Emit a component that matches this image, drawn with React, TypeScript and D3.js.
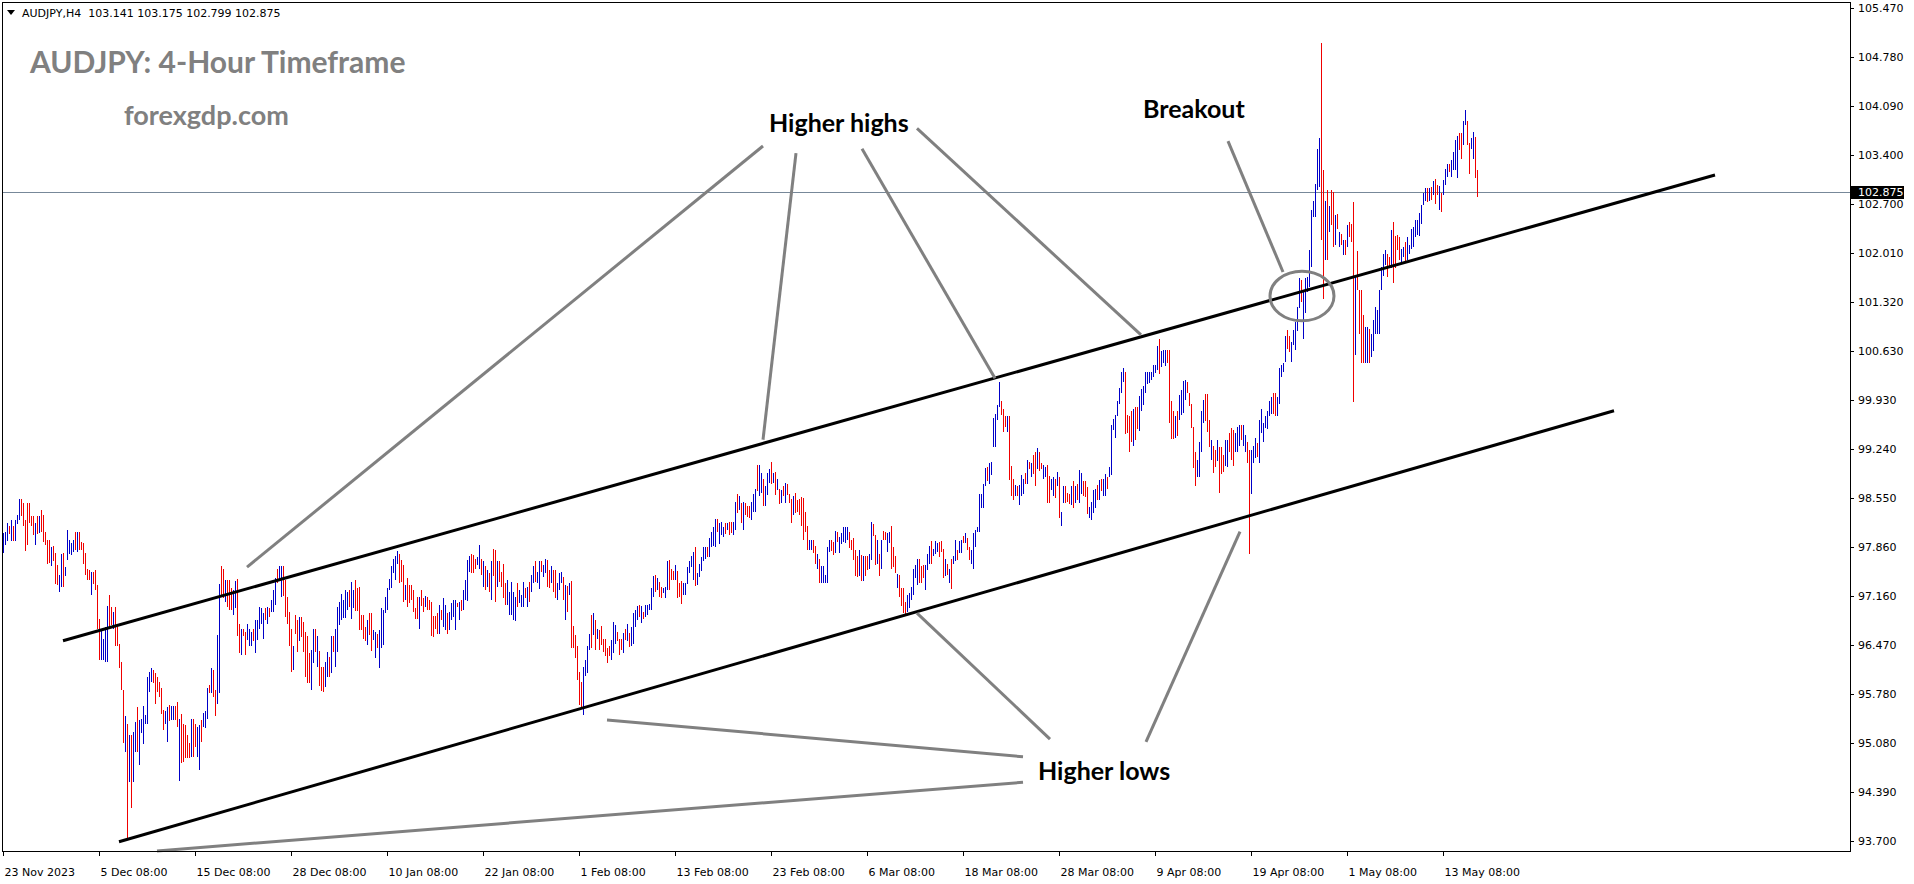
import React from "react";
import { scaleLinear } from "d3";

// one bar per H4 candle: [high, low, 1 = up bar (blue) / 0 = down bar (red)]
type Bar = [number, number, number];

const barsDec: Bar[] = [
  [98.05,97.77,1],[98.06,97.88,1],[98.19,97.94,1],[98.15,98.04,0],[98.23,97.94,1],[98.15,97.94,0],[98.24,97.94,1],[98.31,98.18,1],[98.53,98.23,1],[98.53,98.29,0],
  [98.48,98.15,0],[98.24,97.80,0],[98.48,97.88,0],[98.48,98.20,0],[98.29,98.15,0],[98.29,98.02,0],[98.19,97.88,1],[98.29,98.04,0],[98.29,98.05,1],[98.38,98.06,0],
  [98.31,97.93,0],[98.07,97.88,0],[97.95,97.62,0],[97.95,97.63,0],[97.86,97.58,1],[97.87,97.65,0],[97.77,97.33,0],[97.60,97.32,0],[97.46,97.22,1],[97.76,97.29,1],
  [97.77,97.29,0],[97.57,97.44,1],[98.09,97.67,1],[97.96,97.76,1],[97.91,97.74,1],[97.95,97.79,1],[98.06,97.81,0],[98.07,97.79,1],[98.06,97.81,0],[97.93,97.81,0],
  [97.91,97.62,0],[97.77,97.46,0],[97.55,97.39,0],[97.53,97.39,0],[97.50,97.18,1],[97.50,97.33,0],[97.53,97.25,0],[97.32,96.70,0],[96.83,96.26,0],[96.70,96.26,1],
  [96.56,96.26,1],[96.73,96.23,1],[97.02,96.23,1],[97.17,96.69,0],[97.01,96.75,0],[96.94,96.70,1],[97.01,96.45,0],[96.72,96.45,0],[96.49,96.14,0],[96.23,95.83,0],
  [95.84,95.08,0],[95.47,94.96,1],[95.36,93.74,0],[95.20,94.54,1],[95.20,94.16,0],[95.24,94.54,1],[95.38,94.96,1],[95.60,94.96,0],[95.41,94.77,1],[95.42,95.22,1],
  [95.61,95.07,1],[95.48,95.36,1],[96.02,95.36,1],[96.09,95.81,1],[96.14,95.95,1],[96.12,95.93,0],[96.07,95.64,0],[96.02,95.81,0],[95.95,95.74,0],[95.86,95.50,0],
  [95.55,95.27,0],[95.53,95.36,1],[95.60,95.10,1],[95.62,95.39,0],[95.61,95.41,1],[95.61,95.41,1],[95.61,95.41,0],[95.67,95.31,0],[95.43,94.55,1],[95.50,94.80,0],
  [95.36,94.82,0],[95.34,94.87,0],[95.20,94.87,0],[95.08,94.87,0],[95.43,94.89,1],[95.43,94.89,0],[95.36,95.03,0],[95.31,94.89,1],[95.34,94.71,1],[95.41,95.10,0],
  [95.51,95.31,1],[95.53,95.29,1],[95.86,95.43,1],[95.90,95.79,0],[96.14,95.79,1],[96.11,95.74,0],[95.83,95.47,0],[96.61,95.64,1],[97.33,95.79,1],[97.58,97.17,0],
  [97.55,97.13,0],[97.39,97.08,1],[97.39,97.01,0],[97.39,96.96,0],[97.27,96.96,0],[97.25,96.89,1],[97.38,96.99,1],[97.40,96.60,0],[96.77,96.35,0],[96.70,96.33,1],
  [96.70,96.59,0],[96.66,96.33,0],[96.77,96.54,1],[96.70,96.45,1],[96.66,96.45,1],[96.69,96.52,0],[96.82,96.35,1],[96.82,96.54,1],[97.01,96.70,1],[96.99,96.77,1],
  [96.92,96.56,1],[96.99,96.82,0],[97.01,96.77,1],[96.99,96.86,0],[97.10,96.94,1],[97.25,96.94,1],[97.41,97.03,1],[97.55,97.34,0],[97.58,97.39,1],[97.58,97.15,1],
  [97.58,97.16,0],[97.39,96.87,0],[97.15,96.77,0],[96.94,96.45,0],[96.70,96.09,0],[96.45,96.12,1],[96.89,96.63,0],[96.82,96.37,0],[96.87,96.52,1],
];

const barsJan: Bar[] = [
  [96.86,96.58,0],[96.80,96.37,0],[96.66,96.02,0],[96.59,95.93,0],[96.35,95.93,0],[96.40,95.83,1],[96.70,96.21,1],[96.70,96.37,0],[96.60,96.16,1],[96.38,95.89,0],
  [96.16,95.82,0],[96.16,95.81,0],[96.23,95.88,1],[96.37,96.02,1],[96.30,96.02,0],[96.59,96.07,1],[96.59,96.37,0],[96.70,96.16,1],[97.00,96.37,1],[97.08,96.75,1],
  [97.19,96.82,1],[97.10,96.85,1],[97.24,96.85,1],[97.22,96.96,1],[97.25,97.00,0],[97.36,96.83,1],[97.25,96.99,1],[97.39,96.95,0],[97.28,96.95,0],[97.29,96.68,0],
  [96.89,96.68,0],[96.89,96.56,0],[96.73,96.52,0],[96.82,96.47,1],[96.92,96.61,0],[96.92,96.38,0],[96.68,96.54,1],[96.66,96.28,1],[96.63,96.42,0],[96.68,96.14,1],
  [96.99,96.43,1],[96.97,96.47,1],[97.15,96.92,1],[97.27,96.97,1],[97.40,97.24,1],[97.58,97.27,1],[97.68,97.48,1],[97.72,97.39,1],[97.80,97.62,1],[97.76,97.34,0],
  [97.67,97.36,0],[97.60,97.08,0],[97.32,97.10,1],[97.41,97.01,0],[97.32,97.06,0],[97.32,97.10,0],[97.25,96.94,0],[96.99,96.83,0],[97.15,96.84,0],[97.15,96.70,1],
  [97.24,97.02,0],[97.14,96.94,0],[97.16,97.00,1],[97.15,96.96,0],[97.10,96.97,0],[97.07,96.59,0],[96.88,96.58,0],[96.88,96.70,0],[96.92,96.63,0],[97.03,96.63,1],
  [96.97,96.82,0],[97.13,96.73,1],[97.03,96.68,1],[96.92,96.63,0],[96.93,96.68,1],[97.06,96.82,1],[97.10,96.87,1],[97.11,96.68,1],[97.06,97.00,0],[97.07,96.82,1],
  [97.11,96.95,0],[97.25,96.97,1],[97.39,97.10,1],[97.67,97.09,1],[97.72,97.50,1],[97.75,97.48,0],[97.74,97.48,0],[97.69,97.54,0],[97.71,97.60,1],[97.88,97.54,1],
  [97.69,97.46,0],[97.65,97.29,1],[97.58,97.25,0],[97.53,97.29,1],[97.48,97.22,0],[97.65,97.11,1],[97.82,97.44,0],[97.81,97.08,0],[97.65,97.29,1],[97.65,97.36,0],
  [97.50,97.29,0],[97.62,97.14,0],[97.35,97.03,0],[97.39,97.03,1],[97.22,96.89,1],[97.36,96.89,1],[97.22,96.82,1],[97.15,96.81,1],[97.35,97.00,0],[97.25,97.06,1],
  [97.18,97.00,1],[97.36,97.01,1],[97.27,97.14,0],[97.29,97.00,1],[97.36,97.08,0],[97.46,97.22,1],[97.58,97.34,1],[97.66,97.36,0],[97.50,97.34,1],[97.65,97.26,1],
  [97.66,97.50,0],[97.60,97.43,1],[97.69,97.48,1],[97.67,97.29,0],[97.53,97.27,0],[97.58,97.34,1],[97.53,97.22,0],[97.53,97.14,0],[97.34,97.10,1],[97.48,97.25,1],
  [97.50,97.34,1],[97.43,97.10,0],[97.32,96.82,1],[97.30,96.94,0],[97.35,97.18,1],[97.38,96.42,0],[96.74,96.42,0],[96.61,96.28,0],[96.45,95.98,0],[96.09,95.62,0],
  [95.94,95.57,0],[96.16,95.48,1],[96.26,96.03,1],[96.45,96.07,1],[96.63,96.40,1],[96.89,96.42,0],[96.92,96.61,1],[96.82,96.40,0],[96.70,96.56,1],[96.68,96.40,0],
];

const barsFeb: Bar[] = [
  [96.74,96.47,0],[96.56,96.37,0],[96.56,96.31,0],[96.42,96.21,0],[96.45,96.31,0],[96.54,96.26,1],[96.79,96.35,1],[96.75,96.48,1],[96.66,96.52,0],[96.56,96.33,0],
  [96.56,96.40,0],[96.64,96.35,1],[96.70,96.54,0],[96.77,96.52,1],[96.64,96.44,0],[96.73,96.45,1],[96.92,96.48,1],[96.96,96.73,1],[97.02,96.82,1],[97.03,96.87,0],
  [97.02,96.78,1],[96.93,96.84,0],[97.03,96.87,1],[97.03,96.89,1],[97.05,96.97,1],[97.27,96.97,1],[97.44,97.15,1],[97.46,97.22,0],[97.41,97.25,1],[97.36,97.15,0],
  [97.29,97.13,0],[97.27,97.20,1],[97.29,97.13,1],[97.66,97.25,1],[97.67,97.25,0],[97.55,97.39,0],[97.51,97.39,0],[97.60,97.39,1],[97.52,97.14,0],[97.35,97.15,0],
  [97.37,97.05,0],[97.34,97.18,1],[97.34,97.18,1],[97.57,97.33,1],[97.66,97.49,1],[97.72,97.57,1],[97.79,97.39,1],[97.85,97.30,0],[97.49,97.32,1],[97.62,97.43,1],
  [97.71,97.51,1],[97.85,97.65,1],[97.86,97.69,1],[97.86,97.71,0],[97.98,97.71,1],[98.06,97.85,1],[98.13,97.87,1],[98.25,97.85,1],[98.25,98.07,0],[98.20,97.90,1],
  [98.21,98.02,1],[98.13,98.00,1],[98.19,98.04,0],[98.19,98.09,1],[98.21,98.02,0],[98.21,98.05,0],[98.21,98.02,1],[98.49,98.09,1],[98.61,98.33,0],[98.57,98.37,1],
  [98.48,98.19,0],[98.49,98.09,1],[98.47,98.31,0],[98.43,98.28,0],[98.43,98.26,0],[98.49,98.24,1],[98.60,98.35,1],[98.67,98.35,1],[99.01,98.64,0],[99.01,98.57,1],
  [98.90,98.62,1],[98.81,98.43,0],[98.71,98.43,1],[98.90,98.59,1],[98.95,98.76,1],[99.06,98.75,0],[98.90,98.76,1],[98.92,98.59,0],[98.81,98.66,1],[98.68,98.46,0],
  [98.66,98.48,1],[98.71,98.57,0],[98.76,98.47,1],[98.75,98.59,0],[98.61,98.47,0],[98.53,98.20,0],[98.57,98.31,1],[98.62,98.33,0],[98.52,98.35,0],[98.53,98.31,0],
  [98.56,98.15,0],[98.54,97.95,0],[98.35,98.07,0],[98.15,97.81,0],[97.95,97.81,1],[97.95,97.81,1],[97.95,97.77,0],[97.87,97.61,0],[97.76,97.55,1],[97.69,97.34,0],
  [97.58,97.34,1],[97.58,97.35,1],[97.46,97.35,1],[97.85,97.35,1],[97.95,97.79,1],[97.96,97.80,0],[97.93,97.74,0],[98.08,97.77,1],[98.07,97.93,0],[98.00,97.77,1],
  [98.05,97.90,1],[98.13,97.93,1],[98.13,97.91,1],[98.13,97.95,1],[98.07,97.84,0],[97.96,97.81,0],[97.98,97.67,0],[97.81,97.44,0],[97.72,97.43,0],[97.81,97.44,1],
  [97.74,97.38,0],[97.73,97.37,1],[97.73,97.44,0],[97.72,97.53,0],[97.76,97.54,1],[98.21,97.67,1],[98.18,98.01,0],[98.02,97.60,0],[97.95,97.61,1],[97.76,97.44,0],
  [97.95,97.55,1],[98.08,97.95,0],[98.06,97.95,0],[98.05,97.79,1],[98.06,97.91,1],[98.15,97.55,0],[97.85,97.57,0],[97.73,97.49,0],[97.47,97.27,1],[97.46,97.15,0],
];

const barsMar: Bar[] = [
  [97.27,97.02,0],[97.27,96.92,0],[97.07,96.89,0],[97.18,96.94,1],[97.20,96.99,1],[97.29,97.10,1],[97.55,97.18,1],[97.60,97.41,1],[97.69,97.32,1],[97.69,97.35,0],
  [97.59,97.34,0],[97.60,97.41,0],[97.60,97.25,1],[97.75,97.53,1],[97.87,97.62,1],[97.94,97.62,0],[97.83,97.72,1],[97.94,97.75,1],[97.91,97.79,1],[97.93,97.71,0],
  [97.94,97.79,0],[97.82,97.41,0],[97.68,97.44,1],[97.62,97.46,0],[97.54,97.35,1],[97.68,97.26,0],[97.72,97.62,1],[97.96,97.65,1],[97.81,97.67,0],[97.94,97.77,1],
  [97.96,97.77,1],[98.01,97.91,0],[98.05,97.91,1],[97.98,97.81,0],[97.86,97.67,0],[97.81,97.62,1],[98.05,97.55,1],[98.10,97.86,1],[98.13,98.07,1],[98.61,98.07,1],
  [98.61,98.41,1],[98.74,98.41,1],[98.97,98.71,1],[98.99,98.78,0],[99.04,98.75,1],[99.06,98.87,1],[99.67,99.27,1],[99.74,99.27,1],[99.86,99.65,1],[100.18,99.83,1],
  [99.91,99.72,0],[99.80,99.48,0],[99.70,99.55,0],[99.70,99.48,1],[99.70,98.80,0],[99.00,98.57,0],[98.82,98.52,0],[98.73,98.57,1],[98.72,98.57,0],[98.73,98.45,1],
  [98.87,98.57,1],[98.81,98.61,1],[98.90,98.75,0],[99.08,98.75,1],[99.05,98.95,0],[99.04,98.85,1],[99.15,98.89,0],[99.20,98.72,0],[99.26,98.95,1],[99.19,98.93,0],
  [99.04,98.95,0],[99.01,98.82,1],[98.99,98.85,1],[99.01,98.47,0],[98.86,98.48,0],[98.82,98.66,1],[98.85,98.57,1],[98.81,98.54,0],[98.92,98.72,1],[98.85,98.26,0],
  [98.35,98.15,1],[98.72,98.47,1],[98.72,98.47,0],[98.62,98.49,0],[98.61,98.46,0],[98.71,98.45,1],[98.78,98.40,0],[98.71,98.47,1],[98.75,98.52,0],[98.94,98.47,1],
  [98.90,98.61,1],[98.78,98.57,0],[98.78,98.56,0],[98.70,98.32,0],[98.42,98.26,1],[98.49,98.24,1],[98.66,98.33,1],[98.68,98.40,1],[98.73,98.52,0],[98.80,98.52,1],
  [98.81,98.65,0],[98.81,98.57,1],[98.89,98.57,1],[98.85,98.68,0],[98.98,98.85,1],[99.58,98.87,1],[99.66,99.51,1],[99.72,99.40,1],[99.91,99.70,1],[100.10,99.88,1],
  [100.33,100.03,1],[100.39,100.19,1],[100.33,99.45,0],[99.72,99.46,0],[99.70,99.19,0],[99.77,99.34,0],[99.80,99.28,1],[99.83,99.37,0],[99.83,99.52,0],[99.99,99.50,1],
  [100.08,99.78,1],[100.13,99.86,1],[100.32,100.03,1],[100.32,100.16,1],[100.32,100.17,1],[100.33,100.21,1],[100.43,100.26,1],[100.43,100.31,1],[100.69,100.35,1],[100.80,100.30,0],
  [100.63,100.40,1],[100.64,100.45,1],[100.64,100.41,1],[100.64,100.46,0],[100.64,99.60,0],[99.91,99.38,0],[99.77,99.38,0],[99.70,99.39,1],[99.77,99.42,0],[100.00,99.65,1],
  [100.07,99.72,1],[100.20,99.75,1],[100.22,99.93,1],[100.18,100.03,0],[100.03,99.84,0],[99.87,99.53,0],[99.55,98.97,0],[99.20,98.72,0],[99.08,98.85,1],[99.34,98.85,1],
];

const barsApr: Bar[] = [
  [99.77,99.20,1],[99.93,99.61,1],[100.02,99.64,0],[100.02,99.48,0],[99.65,99.27,0],[99.37,99.08,1],[99.28,98.90,0],[99.22,98.99,0],[99.37,99.07,1],[99.27,98.62,0],
  [99.27,98.88,0],[99.15,98.92,0],[99.37,99.00,1],[99.37,98.99,1],[99.47,99.20,0],[99.54,99.09,0],[99.51,99.00,0],[99.46,99.20,1],[99.55,99.20,1],[99.58,99.28,1],
  [99.58,99.37,0],[99.58,99.28,1],[99.44,99.19,1],[99.34,99.04,0],[99.23,97.76,0],[99.23,98.61,1],[99.28,99.04,1],[99.39,99.11,1],[99.33,99.13,0],[99.65,99.04,1],
  [99.81,99.47,1],[99.60,99.34,1],[99.70,99.53,1],[99.77,99.52,1],[99.91,99.70,1],[99.98,99.74,1],[100.03,99.74,0],[100.03,99.70,0],[99.98,99.70,1],[100.39,99.88,1],
  [100.43,100.26,1],[100.46,100.33,1],[100.83,100.47,1],[100.92,100.65,0],[100.83,100.61,0],[100.75,100.47,1],[100.92,100.71,1],[101.04,100.64,1],[101.25,100.90,1],[101.65,101.23,1],
  [101.63,101.32,0],[101.48,100.79,1],[101.65,101.16,1],[101.67,101.46,1],[102.05,101.53,1],[102.62,101.81,1],[102.75,102.52,1],[102.99,102.52,1],[103.48,102.90,1],[103.63,102.94,1],
  [104.98,102.19,0],[103.18,101.36,0],[102.74,101.91,1],[102.90,101.91,0],[102.67,102.31,1],[102.90,102.40,0],[102.87,102.10,0],[102.54,102.12,1],[102.56,102.35,0],[102.31,102.10,1],
  [102.28,102.12,0],[102.19,101.98,1],[102.19,101.98,0],[102.40,102.10,1],[102.45,102.24,0],[102.42,102.17,0],[102.73,99.90,0],[101.67,100.56,1],[102.04,101.48,0],[101.48,100.87,0],
  [101.48,100.45,0],[101.13,100.45,0],[100.96,100.45,1],[100.96,100.45,1],[100.94,100.45,0],[100.87,100.54,1],[101.06,100.63,1],[101.25,100.87,1],[101.20,100.87,1],[101.48,100.87,1],
  [101.81,101.48,1],[102.00,101.69,1],[102.05,101.84,1],[102.00,101.67,0],[101.95,101.81,0],[102.33,101.79,1],[102.45,101.58,0],[102.25,101.79,0],[102.26,102.05,0],[102.24,101.91,0],
  [102.07,101.88,1],[102.09,101.95,1],[102.17,101.88,0],[102.24,101.91,1],[102.12,102.00,1],[102.35,102.07,1],[102.38,102.10,1],[102.48,102.24,1],[102.48,102.26,1],[102.58,102.25,1],
  [102.68,102.42,1],[102.85,102.68,1],[102.93,102.75,1],[102.93,102.73,0],[102.92,102.75,1],[102.94,102.76,0],[103.03,102.83,1],[103.06,102.70,0],[102.97,102.83,0],[102.95,102.62,1],
  [102.86,102.59,0],[103.04,102.83,1],[103.20,102.97,1],[103.27,103.08,1],[103.27,103.15,0],[103.32,103.08,1],[103.44,103.18,1],[103.61,103.18,1],[103.66,103.07,1],[103.70,103.46,0],
  [103.70,103.34,0],[103.88,103.53,1],[104.03,103.81,1],[103.88,103.53,0],[103.56,103.12,0],[103.64,103.48,1],[103.72,103.34,1],[103.65,103.07,0],[103.175,102.799,0],
];

const bars: Bar[] = [...barsDec, ...barsJan, ...barsFeb, ...barsMar, ...barsApr];

const symbol = "AUDJPY,H4";
const lastOhlc = ["103.141", "103.175", "102.799", "102.875"];
const bidPrice = 102.875;

const priceTicks = [
  "105.470", "104.780", "104.090", "103.400", "102.700", "102.010", "101.320", "100.630", "99.930",
  "99.240", "98.550", "97.860", "97.160", "96.470", "95.780", "95.080", "94.390", "93.700",
];

const timeTickBars = [0, 48, 96, 144, 192, 240, 288, 336, 384, 432, 480, 528, 576, 624, 672, 720];
const timeTickLabels = [
  "23 Nov 2023", "5 Dec 08:00", "15 Dec 08:00", "28 Dec 08:00", "10 Jan 08:00", "22 Jan 08:00",
  "1 Feb 08:00", "13 Feb 08:00", "23 Feb 08:00", "6 Mar 08:00", "18 Mar 08:00", "28 Mar 08:00",
  "9 Apr 08:00", "19 Apr 08:00", "1 May 08:00", "13 May 08:00",
];

// drawn objects, anchored at [bar index, price]
const channelLines: [number, number][][] = [
  [[30, 96.53], [856, 103.11]],
  [[58, 93.69], [805.5, 99.78]],
];

const pointerLines: [number, number][][] = [
  [[380, 103.52], [122, 97.57]],
  [[396.5, 103.42], [380, 99.37]],
  [[429.5, 103.48], [496, 100.24]],
  [[457, 103.77], [569, 100.85]],
  [[612.5, 103.59], [640, 101.74]],
  [[302, 95.41], [510, 94.89]],
  [[77, 93.56], [510, 94.53]],
  [[457, 96.92], [523.5, 95.14]],
  [[618.5, 98.07], [571.5, 95.10]],
];

const breakoutZone = { left: 633.5, right: 665.5, top: 101.75, bottom: 101.05 };

const notes = [
  { text: "Higher highs", bar: 383, price: 103.72 },
  { text: "Breakout", bar: 570, price: 103.92 },
  { text: "Higher lows", bar: 517.5, price: 94.56 },
];

const W = 1914;
const H = 884;
const frame = { left: 2, top: 2, right: 1850, bottom: 851 };

export default function App() {
  const x = scaleLinear().domain([0, 737]).range([3, 1477]);
  const y = scaleLinear().domain([93.7, 105.47]).range([841, 8]);

  const axisFont = "'DejaVu Sans', Verdana, sans-serif";
  const noteFont = "Lato, 'Open Sans', sans-serif";
  const bidY = Math.round(y(bidPrice)) + 0.5;

  return (
    <svg
      width={W}
      height={H}
      style={{ position: "absolute", left: 0, top: 0, background: "#fff" }}
    >
      <rect x={0} y={0} width={W} height={H} fill="#fff" />

      {/* bid line */}
      <line x1={frame.left} x2={frame.right} y1={bidY} y2={bidY} stroke="#778899" strokeWidth={1} />

      {/* bars */}
      <g shapeRendering="crispEdges">
        {bars.map(([hi, lo, up], i) => {
          const top = Math.round(y(hi));
          const bot = Math.round(y(lo));
          return (
            <rect
              key={i}
              x={Math.round(x(i))}
              y={top}
              width={1}
              height={Math.max(1, bot - top)}
              fill={up ? "#0000c8" : "#f00000"}
            />
          );
        })}
      </g>

      {/* channel */}
      {channelLines.map(([a, b], i) => (
        <line
          key={`ch-${i}`}
          x1={x(a[0])}
          y1={y(a[1])}
          x2={x(b[0])}
          y2={y(b[1])}
          stroke="#000"
          strokeWidth={3}
        />
      ))}

      {/* pointers */}
      {pointerLines.map(([a, b], i) => (
        <line
          key={`pt-${i}`}
          x1={x(a[0])}
          y1={y(a[1])}
          x2={x(b[0])}
          y2={y(b[1])}
          stroke="#808080"
          strokeWidth={3}
        />
      ))}

      <ellipse
        cx={(x(breakoutZone.left) + x(breakoutZone.right)) / 2}
        cy={(y(breakoutZone.top) + y(breakoutZone.bottom)) / 2}
        rx={(x(breakoutZone.right) - x(breakoutZone.left)) / 2}
        ry={(y(breakoutZone.bottom) - y(breakoutZone.top)) / 2}
        fill="none"
        stroke="#808080"
        strokeWidth={3}
      />

      {notes.map((n) => (
        <text
          key={n.text}
          x={x(n.bar)}
          y={y(n.price)}
          fontFamily={noteFont}
          fontWeight={700}
          fontSize={25}
          fill="#000"
        >
          {n.text}
        </text>
      ))}

      {/* title labels */}
      <text x={30} y={73} fontFamily={noteFont} fontWeight={700} fontSize={30} fill="#808080">
        AUDJPY: 4-Hour Timeframe
      </text>
      <text x={124} y={125} fontFamily={noteFont} fontWeight={700} fontSize={27} fill="#808080">
        forexgdp.com
      </text>

      {/* header */}
      <polygon points="7,10 15,10 11,15" fill="#000" />
      <text x={22} y={13} dy="0.35em" fontFamily={axisFont} fontSize={11} fill="#000" style={{ whiteSpace: "pre" }}>
        {`${symbol}  ${lastOhlc.join(" ")}`}
      </text>

      {/* frame */}
      <rect
        x={frame.left + 0.5}
        y={frame.top + 0.5}
        width={frame.right - frame.left}
        height={frame.bottom - frame.top}
        fill="none"
        stroke="#000"
        strokeWidth={1}
      />

      {/* price axis */}
      {priceTicks.map((t) => {
        const ty = Math.round(y(+t)) + 0.5;
        return (
          <g key={t}>
            <line x1={frame.right} x2={frame.right + 4} y1={ty} y2={ty} stroke="#000" />
            <text x={frame.right + 8} y={ty} dy="0.36em" fontFamily={axisFont} fontSize={11} fill="#000">
              {t}
            </text>
          </g>
        );
      })}
      <rect x={frame.right + 1} y={bidY - 6.5} width={53} height={13} fill="#000" />
      <text x={frame.right + 8} y={bidY} dy="0.36em" fontFamily={axisFont} fontSize={11} fill="#fff">
        {bidPrice.toFixed(3)}
      </text>

      {/* time axis */}
      {timeTickBars.map((b, i) => {
        const tx = Math.round(x(b)) + 0.5;
        return (
          <g key={b}>
            <line x1={tx} x2={tx} y1={frame.bottom} y2={frame.bottom + 5} stroke="#000" />
            <text x={tx + 1} y={872} dy="0.35em" fontFamily={axisFont} fontSize={11} fill="#000">
              {timeTickLabels[i]}
            </text>
          </g>
        );
      })}
    </svg>
  );
}
